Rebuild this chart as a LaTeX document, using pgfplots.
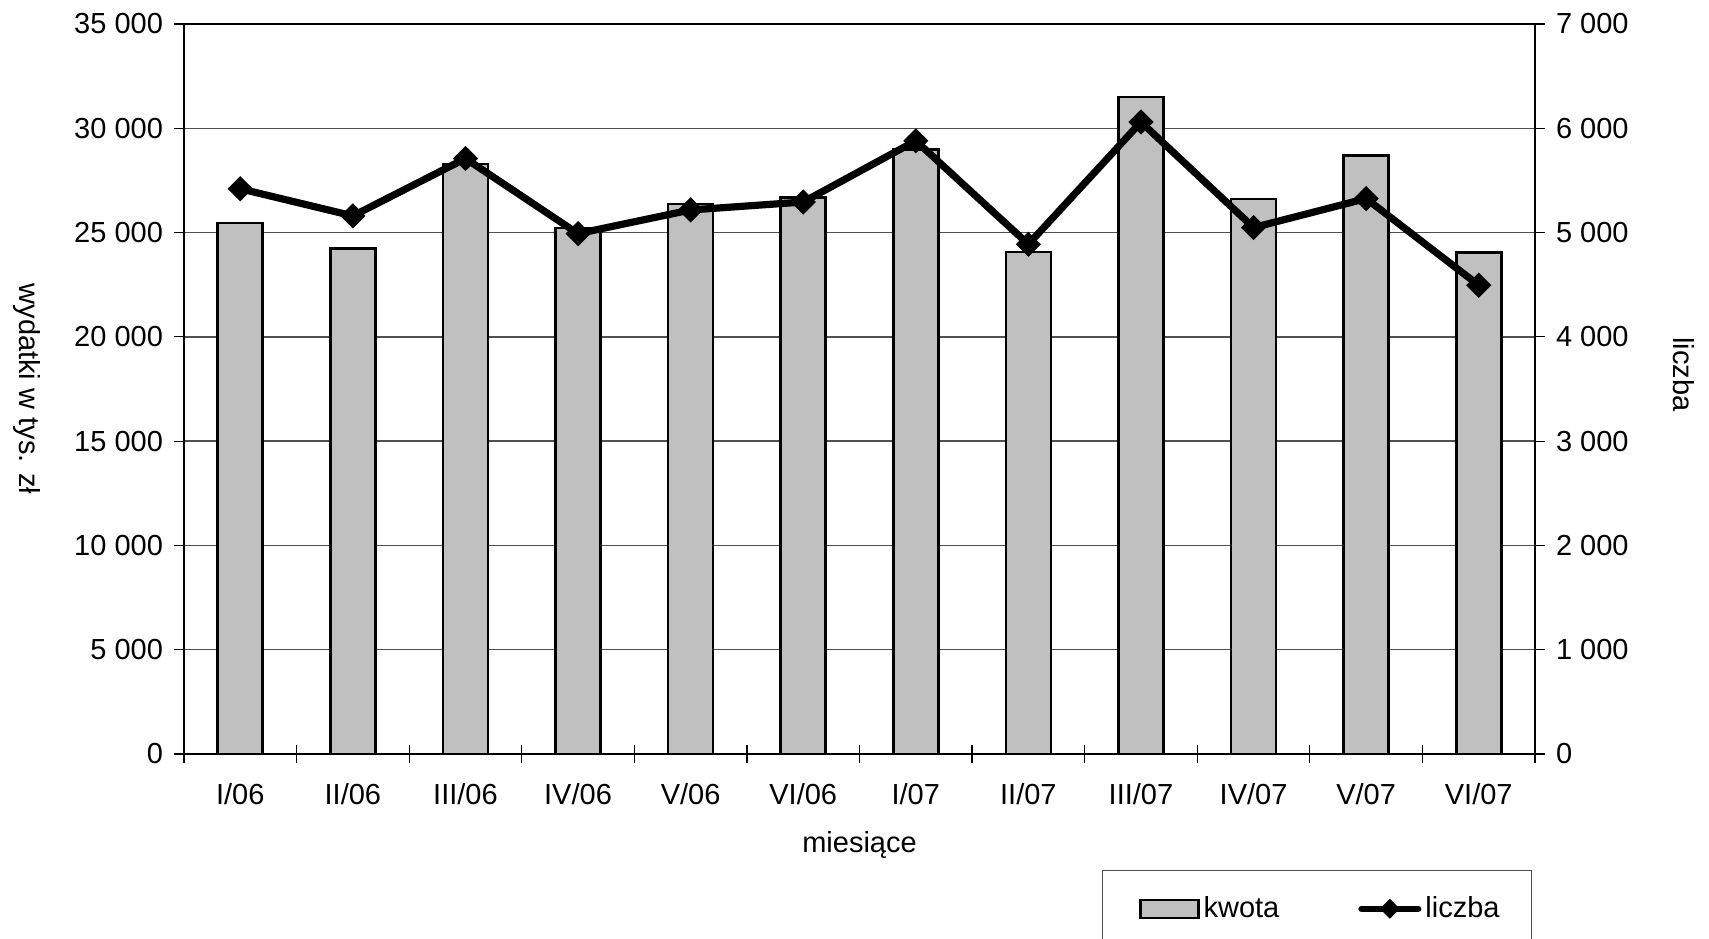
\documentclass[border=0pt]{standalone}
\usepackage{pgfplots}
\pgfplotsset{compat=1.18}
\usepackage{fontspec}
\setmainfont{Liberation Sans}
\definecolor{barfill}{RGB}{192,192,192}
\definecolor{gridc}{RGB}{80,80,80}
\newcommand{\fs}{\fontsize{14.5}{17}\selectfont}
\begin{document}
\begin{tikzpicture}[font=\fs]
\useasboundingbox (-92pt,-92pt) rectangle (762.5pt,377pt);
\begin{axis}[
  at={(0pt,0pt)}, anchor=south west, scale only axis,
  width=675.5pt, height=365pt,
  xmin=-0.5, xmax=11.5, ymin=0, ymax=35000,
  xtick={0,...,11},
  xticklabels={I/06,II/06,III/06,IV/06,V/06,VI/06,I/07,II/07,III/07,IV/07,V/07,VI/07},
  major x tick style={draw=none},
  minor xtick={-0.5,0.5,...,11.5},
  minor tick length=9pt,
  minor x tick style={yshift=4.5pt, line width=0.6pt, black},
  xtick pos=bottom, ytick pos=left,
  tick align=outside, major tick length=5pt,
  ytick={0,5000,...,35000},
  ymajorgrids, grid style={gridc, line width=0.7pt},
  major y tick style={line width=0.6pt, black},
  axis line style={line width=1.2pt},
  /pgf/number format/assume math mode=true,
  /pgf/number format/1000 sep={\ },
  scaled y ticks=false,
  tick label style={font=\fs},
  yticklabel style={xshift=-2pt},
  xticklabel style={yshift=-6pt},
  xlabel={miesiące},
  ylabel={wydatki w tys. zł},
  label style={font=\fs},
  every axis x label/.style={at={(axis description cs:0.5,-0.1247)}, anchor=center},
  every axis y label/.style={at={(axis description cs:-0.1162,0.5)}, anchor=center, rotate=-90},
]
\addplot[ybar, bar width=22.5pt, fill=barfill, draw=black, line width=1.3pt] coordinates {
 (0,25450) (1,24230) (2,28290) (3,25220) (4,26370) (5,26690)
 (6,28990) (7,24070) (8,31500) (9,26610) (10,28700) (11,24040)
};
\end{axis}
\begin{axis}[
  at={(0pt,0pt)}, anchor=south west, scale only axis,
  width=675.5pt, height=365pt,
  xmin=-0.5, xmax=11.5, ymin=0, ymax=7000,
  axis x line=none, axis y line*=right,
  ytick={0,1000,...,7000},
  tick align=outside, major tick length=5pt,
  major y tick style={line width=0.6pt, black},
  axis line style={line width=1.2pt},
  /pgf/number format/assume math mode=true,
  /pgf/number format/1000 sep={\ },
  scaled y ticks=false,
  tick label style={font=\fs},
  yticklabel style={xshift=2pt},
  ylabel={liczba},
  label style={font=\fs},
  every axis y label/.style={at={(axis description cs:1.1103,0.52)}, anchor=center, rotate=-90},
  legend columns=2,
  legend style={at={(axis description cs:0.6795,-0.159)}, anchor=north west,
    draw=gridc, line width=0.7pt, font=\fs,
    inner xsep=14pt, inner ysep=11pt,
    /tikz/every even column/.append style={column sep=37.5pt}},
  legend cell align=left,
]
\addlegendimage{legend image code/.code={\path (0pt,0pt); \draw[fill=barfill, draw=black, line width=1.2pt] (4.5pt,-4.5pt) rectangle (33.5pt,4.5pt);}}
\addlegendentry{kwota}
\addplot[black, line width=3.6pt, mark=square*, mark size=4.2pt,
  mark options={solid, rotate=45, line width=0.5pt},
  legend image code/.code={\draw[black, line width=3pt, line cap=round] (0pt,0pt) -- (28.5pt,0pt); \path[fill=black, draw=none] (14.25pt,0pt) +(0,5pt) -- +(5pt,0) -- +(0,-5pt) -- +(-5pt,0) -- cycle;}]
 coordinates {
 (0,5420) (1,5160) (2,5710) (3,4990) (4,5217) (5,5293)
 (6,5880) (7,4888) (8,6060) (9,5048) (10,5326) (11,4495)
};
\addlegendentry{liczba}
\end{axis}
\end{tikzpicture}
\end{document}
